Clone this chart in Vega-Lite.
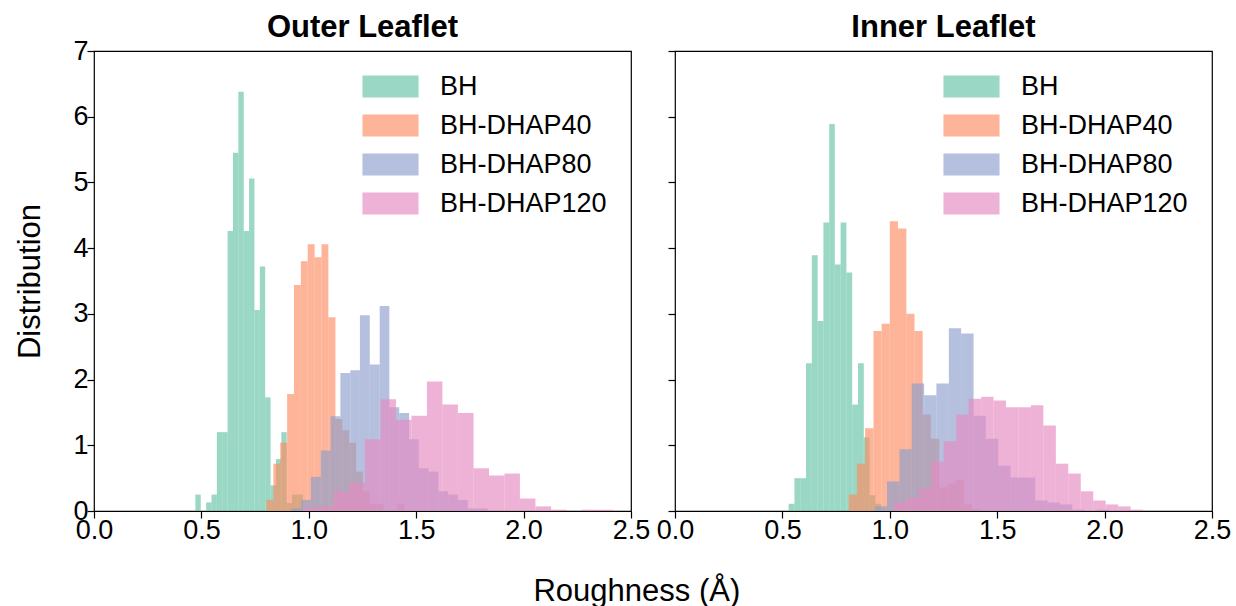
{
  "$schema": "https://vega.github.io/schema/vega-lite/v6.json",
  "padding": {"left": 14, "top": 11, "right": 5, "bottom": 5},
  "config": {
    "font": "Liberation Sans",
    "view": {"stroke": "black", "strokeWidth": 1.2},
    "axis": {"grid": false, "domain": false, "tickColor": "black", "tickSize": 7, "tickWidth": 1.2, "labelColor": "black", "labelFontSize": 27, "titleFontSize": 31, "titleFontWeight": "normal", "titleColor": "black", "labelPadding": -1, "labelFlush": false, "labelOverlap": false},
    "title": {"fontSize": 31, "fontWeight": "bold", "color": "black"},
    "legend": {"labelFontSize": 27, "labelColor": "black", "labelLimit": 400, "symbolType": "M-2.55,-1H2.55V1H-2.55Z", "symbolSize": 484, "symbolStrokeWidth": 0, "symbolOpacity": 0.66, "labelOffset": 36, "rowPadding": 11, "title": null, "padding": 0}
  },
  "datasets": {
    "hist": [
      {"panel": "Outer", "series": "BH", "x0": 0.472, "x1": 0.497, "y": 0.25},
      {"panel": "Outer", "series": "BH", "x0": 0.522, "x1": 0.547, "y": 0.13},
      {"panel": "Outer", "series": "BH", "x0": 0.547, "x1": 0.572, "y": 0.25},
      {"panel": "Outer", "series": "BH", "x0": 0.572, "x1": 0.597, "y": 1.2},
      {"panel": "Outer", "series": "BH", "x0": 0.597, "x1": 0.622, "y": 1.2},
      {"panel": "Outer", "series": "BH", "x0": 0.622, "x1": 0.647, "y": 4.26},
      {"panel": "Outer", "series": "BH", "x0": 0.647, "x1": 0.672, "y": 5.45},
      {"panel": "Outer", "series": "BH", "x0": 0.672, "x1": 0.697, "y": 6.38},
      {"panel": "Outer", "series": "BH", "x0": 0.697, "x1": 0.722, "y": 4.26},
      {"panel": "Outer", "series": "BH", "x0": 0.722, "x1": 0.747, "y": 5.06},
      {"panel": "Outer", "series": "BH", "x0": 0.747, "x1": 0.772, "y": 3.06},
      {"panel": "Outer", "series": "BH", "x0": 0.772, "x1": 0.797, "y": 3.72},
      {"panel": "Outer", "series": "BH", "x0": 0.797, "x1": 0.822, "y": 1.73},
      {"panel": "Outer", "series": "BH", "x0": 0.822, "x1": 0.847, "y": 0.39},
      {"panel": "Outer", "series": "BH", "x0": 0.847, "x1": 0.872, "y": 0.79},
      {"panel": "Outer", "series": "BH", "x0": 0.872, "x1": 0.897, "y": 1.2},
      {"panel": "Outer", "series": "BH", "x0": 0.897, "x1": 0.922, "y": 0.12},
      {"panel": "Outer", "series": "BH", "x0": 0.922, "x1": 0.947, "y": 0.25},
      {"panel": "Outer", "series": "BH", "x0": 0.947, "x1": 0.972, "y": 0.25},

      {"panel": "Outer", "series": "BH-DHAP40", "x0": 0.803, "x1": 0.835, "y": 0.17},
      {"panel": "Outer", "series": "BH-DHAP40", "x0": 0.835, "x1": 0.867, "y": 0.72},
      {"panel": "Outer", "series": "BH-DHAP40", "x0": 0.867, "x1": 0.899, "y": 1.04},
      {"panel": "Outer", "series": "BH-DHAP40", "x0": 0.899, "x1": 0.931, "y": 1.78},
      {"panel": "Outer", "series": "BH-DHAP40", "x0": 0.931, "x1": 0.963, "y": 3.44},
      {"panel": "Outer", "series": "BH-DHAP40", "x0": 0.963, "x1": 0.995, "y": 3.8},
      {"panel": "Outer", "series": "BH-DHAP40", "x0": 0.995, "x1": 1.027, "y": 4.06},
      {"panel": "Outer", "series": "BH-DHAP40", "x0": 1.027, "x1": 1.059, "y": 3.86},
      {"panel": "Outer", "series": "BH-DHAP40", "x0": 1.059, "x1": 1.091, "y": 4.06},
      {"panel": "Outer", "series": "BH-DHAP40", "x0": 1.091, "x1": 1.124, "y": 2.95},
      {"panel": "Outer", "series": "BH-DHAP40", "x0": 1.124, "x1": 1.156, "y": 1.4},
      {"panel": "Outer", "series": "BH-DHAP40", "x0": 1.156, "x1": 1.188, "y": 1.23},
      {"panel": "Outer", "series": "BH-DHAP40", "x0": 1.188, "x1": 1.22, "y": 1.04},
      {"panel": "Outer", "series": "BH-DHAP40", "x0": 1.22, "x1": 1.252, "y": 0.6},
      {"panel": "Outer", "series": "BH-DHAP40", "x0": 1.252, "x1": 1.284, "y": 0.3},
      {"panel": "Outer", "series": "BH-DHAP40", "x0": 1.284, "x1": 1.316, "y": 0.11},
      {"panel": "Outer", "series": "BH-DHAP40", "x0": 1.316, "x1": 1.348, "y": 0.11},
      {"panel": "Outer", "series": "BH-DHAP40", "x0": 1.413, "x1": 1.445, "y": 0.11},

      {"panel": "Outer", "series": "BH-DHAP80", "x0": 0.919, "x1": 0.965, "y": 0.04},
      {"panel": "Outer", "series": "BH-DHAP80", "x0": 0.965, "x1": 1.01, "y": 0.17},
      {"panel": "Outer", "series": "BH-DHAP80", "x0": 1.01, "x1": 1.056, "y": 0.52},
      {"panel": "Outer", "series": "BH-DHAP80", "x0": 1.056, "x1": 1.102, "y": 0.92},
      {"panel": "Outer", "series": "BH-DHAP80", "x0": 1.102, "x1": 1.147, "y": 1.44},
      {"panel": "Outer", "series": "BH-DHAP80", "x0": 1.147, "x1": 1.193, "y": 2.1},
      {"panel": "Outer", "series": "BH-DHAP80", "x0": 1.193, "x1": 1.238, "y": 2.14},
      {"panel": "Outer", "series": "BH-DHAP80", "x0": 1.238, "x1": 1.284, "y": 2.98},
      {"panel": "Outer", "series": "BH-DHAP80", "x0": 1.284, "x1": 1.33, "y": 2.23},
      {"panel": "Outer", "series": "BH-DHAP80", "x0": 1.33, "x1": 1.375, "y": 3.12},
      {"panel": "Outer", "series": "BH-DHAP80", "x0": 1.375, "x1": 1.421, "y": 1.58},
      {"panel": "Outer", "series": "BH-DHAP80", "x0": 1.421, "x1": 1.467, "y": 1.49},
      {"panel": "Outer", "series": "BH-DHAP80", "x0": 1.467, "x1": 1.512, "y": 1.09},
      {"panel": "Outer", "series": "BH-DHAP80", "x0": 1.512, "x1": 1.558, "y": 0.65},
      {"panel": "Outer", "series": "BH-DHAP80", "x0": 1.558, "x1": 1.603, "y": 0.6},
      {"panel": "Outer", "series": "BH-DHAP80", "x0": 1.603, "x1": 1.649, "y": 0.3},
      {"panel": "Outer", "series": "BH-DHAP80", "x0": 1.649, "x1": 1.695, "y": 0.25},
      {"panel": "Outer", "series": "BH-DHAP80", "x0": 1.695, "x1": 1.74, "y": 0.17},
      {"panel": "Outer", "series": "BH-DHAP80", "x0": 1.74, "x1": 1.786, "y": 0.04},
      {"panel": "Outer", "series": "BH-DHAP80", "x0": 1.786, "x1": 1.832, "y": 0.04},

      {"panel": "Outer", "series": "BH-DHAP120", "x0": 0.973, "x1": 1.045, "y": 0.05},
      {"panel": "Outer", "series": "BH-DHAP120", "x0": 1.045, "x1": 1.117, "y": 0.07},
      {"panel": "Outer", "series": "BH-DHAP120", "x0": 1.117, "x1": 1.189, "y": 0.3},
      {"panel": "Outer", "series": "BH-DHAP120", "x0": 1.189, "x1": 1.261, "y": 0.43},
      {"panel": "Outer", "series": "BH-DHAP120", "x0": 1.261, "x1": 1.334, "y": 1.09},
      {"panel": "Outer", "series": "BH-DHAP120", "x0": 1.334, "x1": 1.406, "y": 1.7},
      {"panel": "Outer", "series": "BH-DHAP120", "x0": 1.406, "x1": 1.478, "y": 1.39},
      {"panel": "Outer", "series": "BH-DHAP120", "x0": 1.478, "x1": 1.55, "y": 1.45},
      {"panel": "Outer", "series": "BH-DHAP120", "x0": 1.55, "x1": 1.622, "y": 1.97},
      {"panel": "Outer", "series": "BH-DHAP120", "x0": 1.622, "x1": 1.694, "y": 1.62},
      {"panel": "Outer", "series": "BH-DHAP120", "x0": 1.694, "x1": 1.767, "y": 1.49},
      {"panel": "Outer", "series": "BH-DHAP120", "x0": 1.767, "x1": 1.839, "y": 0.65},
      {"panel": "Outer", "series": "BH-DHAP120", "x0": 1.839, "x1": 1.911, "y": 0.54},
      {"panel": "Outer", "series": "BH-DHAP120", "x0": 1.911, "x1": 1.983, "y": 0.57},
      {"panel": "Outer", "series": "BH-DHAP120", "x0": 1.983, "x1": 2.055, "y": 0.19},
      {"panel": "Outer", "series": "BH-DHAP120", "x0": 2.055, "x1": 2.128, "y": 0.07},
      {"panel": "Outer", "series": "BH-DHAP120", "x0": 2.128, "x1": 2.2, "y": 0.02},
      {"panel": "Outer", "series": "BH-DHAP120", "x0": 2.272, "x1": 2.344, "y": 0.02},
      {"panel": "Outer", "series": "BH-DHAP120", "x0": 2.344, "x1": 2.416, "y": 0.02},

      {"panel": "Inner", "series": "BH", "x0": 0.529, "x1": 0.556, "y": 0.11},
      {"panel": "Inner", "series": "BH", "x0": 0.556, "x1": 0.583, "y": 0.5},
      {"panel": "Inner", "series": "BH", "x0": 0.583, "x1": 0.61, "y": 0.5},
      {"panel": "Inner", "series": "BH", "x0": 0.61, "x1": 0.637, "y": 2.25},
      {"panel": "Inner", "series": "BH", "x0": 0.637, "x1": 0.664, "y": 3.89},
      {"panel": "Inner", "series": "BH", "x0": 0.664, "x1": 0.691, "y": 2.89},
      {"panel": "Inner", "series": "BH", "x0": 0.691, "x1": 0.718, "y": 4.39},
      {"panel": "Inner", "series": "BH", "x0": 0.718, "x1": 0.744, "y": 5.89},
      {"panel": "Inner", "series": "BH", "x0": 0.744, "x1": 0.771, "y": 3.75},
      {"panel": "Inner", "series": "BH", "x0": 0.771, "x1": 0.798, "y": 4.39},
      {"panel": "Inner", "series": "BH", "x0": 0.798, "x1": 0.825, "y": 3.63},
      {"panel": "Inner", "series": "BH", "x0": 0.825, "x1": 0.852, "y": 1.62},
      {"panel": "Inner", "series": "BH", "x0": 0.852, "x1": 0.879, "y": 2.25},
      {"panel": "Inner", "series": "BH", "x0": 0.879, "x1": 0.906, "y": 1.12},
      {"panel": "Inner", "series": "BH", "x0": 0.906, "x1": 0.933, "y": 0.24},
      {"panel": "Inner", "series": "BH", "x0": 0.933, "x1": 0.96, "y": 0.11},

      {"panel": "Inner", "series": "BH-DHAP40", "x0": 0.809, "x1": 0.847, "y": 0.25},
      {"panel": "Inner", "series": "BH-DHAP40", "x0": 0.847, "x1": 0.885, "y": 0.72},
      {"panel": "Inner", "series": "BH-DHAP40", "x0": 0.885, "x1": 0.924, "y": 1.26},
      {"panel": "Inner", "series": "BH-DHAP40", "x0": 0.924, "x1": 0.962, "y": 2.74},
      {"panel": "Inner", "series": "BH-DHAP40", "x0": 0.962, "x1": 1.0, "y": 2.85},
      {"panel": "Inner", "series": "BH-DHAP40", "x0": 1.0, "x1": 1.038, "y": 4.41},
      {"panel": "Inner", "series": "BH-DHAP40", "x0": 1.038, "x1": 1.077, "y": 4.3},
      {"panel": "Inner", "series": "BH-DHAP40", "x0": 1.077, "x1": 1.115, "y": 3.0},
      {"panel": "Inner", "series": "BH-DHAP40", "x0": 1.115, "x1": 1.153, "y": 2.74},
      {"panel": "Inner", "series": "BH-DHAP40", "x0": 1.153, "x1": 1.191, "y": 1.47},
      {"panel": "Inner", "series": "BH-DHAP40", "x0": 1.191, "x1": 1.23, "y": 1.1},
      {"panel": "Inner", "series": "BH-DHAP40", "x0": 1.23, "x1": 1.268, "y": 0.36},
      {"panel": "Inner", "series": "BH-DHAP40", "x0": 1.268, "x1": 1.306, "y": 0.42},
      {"panel": "Inner", "series": "BH-DHAP40", "x0": 1.306, "x1": 1.344, "y": 0.47},
      {"panel": "Inner", "series": "BH-DHAP40", "x0": 1.344, "x1": 1.383, "y": 0.1},
      {"panel": "Inner", "series": "BH-DHAP40", "x0": 1.383, "x1": 1.421, "y": 0.03},

      {"panel": "Inner", "series": "BH-DHAP80", "x0": 0.93, "x1": 0.987, "y": 0.07},
      {"panel": "Inner", "series": "BH-DHAP80", "x0": 0.987, "x1": 1.045, "y": 0.45},
      {"panel": "Inner", "series": "BH-DHAP80", "x0": 1.045, "x1": 1.102, "y": 0.94},
      {"panel": "Inner", "series": "BH-DHAP80", "x0": 1.102, "x1": 1.16, "y": 1.94},
      {"panel": "Inner", "series": "BH-DHAP80", "x0": 1.16, "x1": 1.217, "y": 1.76},
      {"panel": "Inner", "series": "BH-DHAP80", "x0": 1.217, "x1": 1.275, "y": 1.94},
      {"panel": "Inner", "series": "BH-DHAP80", "x0": 1.275, "x1": 1.332, "y": 2.78},
      {"panel": "Inner", "series": "BH-DHAP80", "x0": 1.332, "x1": 1.39, "y": 2.7},
      {"panel": "Inner", "series": "BH-DHAP80", "x0": 1.39, "x1": 1.447, "y": 1.45},
      {"panel": "Inner", "series": "BH-DHAP80", "x0": 1.447, "x1": 1.505, "y": 1.1},
      {"panel": "Inner", "series": "BH-DHAP80", "x0": 1.505, "x1": 1.562, "y": 0.69},
      {"panel": "Inner", "series": "BH-DHAP80", "x0": 1.562, "x1": 1.62, "y": 0.51},
      {"panel": "Inner", "series": "BH-DHAP80", "x0": 1.62, "x1": 1.677, "y": 0.51},
      {"panel": "Inner", "series": "BH-DHAP80", "x0": 1.677, "x1": 1.735, "y": 0.16},
      {"panel": "Inner", "series": "BH-DHAP80", "x0": 1.735, "x1": 1.792, "y": 0.13},
      {"panel": "Inner", "series": "BH-DHAP80", "x0": 1.792, "x1": 1.85, "y": 0.1},
      {"panel": "Inner", "series": "BH-DHAP80", "x0": 1.85, "x1": 1.907, "y": 0.02},
      {"panel": "Inner", "series": "BH-DHAP80", "x0": 1.965, "x1": 2.022, "y": 0.02},

      {"panel": "Inner", "series": "BH-DHAP120", "x0": 1.019, "x1": 1.077, "y": 0.13},
      {"panel": "Inner", "series": "BH-DHAP120", "x0": 1.077, "x1": 1.135, "y": 0.2},
      {"panel": "Inner", "series": "BH-DHAP120", "x0": 1.135, "x1": 1.193, "y": 0.34},
      {"panel": "Inner", "series": "BH-DHAP120", "x0": 1.193, "x1": 1.251, "y": 0.75},
      {"panel": "Inner", "series": "BH-DHAP120", "x0": 1.251, "x1": 1.309, "y": 1.06},
      {"panel": "Inner", "series": "BH-DHAP120", "x0": 1.309, "x1": 1.367, "y": 1.47},
      {"panel": "Inner", "series": "BH-DHAP120", "x0": 1.367, "x1": 1.425, "y": 1.71},
      {"panel": "Inner", "series": "BH-DHAP120", "x0": 1.425, "x1": 1.483, "y": 1.74},
      {"panel": "Inner", "series": "BH-DHAP120", "x0": 1.483, "x1": 1.541, "y": 1.68},
      {"panel": "Inner", "series": "BH-DHAP120", "x0": 1.541, "x1": 1.599, "y": 1.58},
      {"panel": "Inner", "series": "BH-DHAP120", "x0": 1.599, "x1": 1.657, "y": 1.58},
      {"panel": "Inner", "series": "BH-DHAP120", "x0": 1.657, "x1": 1.715, "y": 1.61},
      {"panel": "Inner", "series": "BH-DHAP120", "x0": 1.715, "x1": 1.773, "y": 1.3},
      {"panel": "Inner", "series": "BH-DHAP120", "x0": 1.773, "x1": 1.831, "y": 0.72},
      {"panel": "Inner", "series": "BH-DHAP120", "x0": 1.831, "x1": 1.889, "y": 0.57},
      {"panel": "Inner", "series": "BH-DHAP120", "x0": 1.889, "x1": 1.947, "y": 0.3},
      {"panel": "Inner", "series": "BH-DHAP120", "x0": 1.947, "x1": 2.005, "y": 0.16},
      {"panel": "Inner", "series": "BH-DHAP120", "x0": 2.005, "x1": 2.063, "y": 0.1},
      {"panel": "Inner", "series": "BH-DHAP120", "x0": 2.063, "x1": 2.121, "y": 0.07},
      {"panel": "Inner", "series": "BH-DHAP120", "x0": 2.121, "x1": 2.179, "y": 0.02}
    ]
  },
  "title": {"text": "Roughness (Å)", "orient": "bottom", "anchor": "middle", "fontSize": 31, "fontWeight": "normal", "offset": 33, "dx": 14},
  "spacing": 4,
  "resolve": {"legend": {"color": "independent"}, "scale": {"color": "independent"}},
  "hconcat": [
    {
      "title": {"text": "Outer Leaflet", "offset": -7},
      "width": 537,
      "height": 460,
      "data": {"name": "hist"},
      "transform": [{"filter": "datum.panel === 'Outer'"}],
      "mark": {"type": "bar", "opacity": 0.66, "clip": true},
      "encoding": {
        "x": {"field": "x0", "type": "quantitative", "scale": {"domain": [0, 2.5], "nice": false, "zero": false}, "axis": {"title": null, "values": [0, 0.5, 1, 1.5, 2, 2.5], "format": ".1f"}},
        "x2": {"field": "x1"},
        "y": {"field": "y", "type": "quantitative", "stack": null, "scale": {"domain": [0, 7], "nice": false}, "axis": {"title": "Distribution", "values": [0, 1, 2, 3, 4, 5, 6, 7], "titlePadding": 26}},
        "y2": {"datum": 0},
        "color": {"field": "series", "type": "nominal", "scale": {"domain": ["BH", "BH-DHAP40", "BH-DHAP80", "BH-DHAP120"], "range": ["#66c2a5", "#fc8d62", "#8da0cb", "#e78ac3"]}, "legend": {"orient": "none", "legendX": 283, "legendY": 22}}
      }
    },
    {
      "title": {"text": "Inner Leaflet", "offset": 6.5},
      "width": 537,
      "height": 460,
      "data": {"name": "hist"},
      "transform": [{"filter": "datum.panel === 'Inner'"}],
      "mark": {"type": "bar", "opacity": 0.66, "clip": true},
      "encoding": {
        "x": {"field": "x0", "type": "quantitative", "scale": {"domain": [0, 2.5], "nice": false, "zero": false}, "axis": {"title": null, "values": [0, 0.5, 1, 1.5, 2, 2.5], "format": ".1f"}},
        "x2": {"field": "x1"},
        "y": {"field": "y", "type": "quantitative", "stack": null, "scale": {"domain": [0, 7], "nice": false}, "axis": {"title": null, "labels": false, "values": [0, 1, 2, 3, 4, 5, 6, 7]}},
        "y2": {"datum": 0},
        "color": {"field": "series", "type": "nominal", "scale": {"domain": ["BH", "BH-DHAP40", "BH-DHAP80", "BH-DHAP120"], "range": ["#66c2a5", "#fc8d62", "#8da0cb", "#e78ac3"]}, "legend": {"orient": "none", "legendX": 283, "legendY": 22}}
      }
    }
  ]
}
